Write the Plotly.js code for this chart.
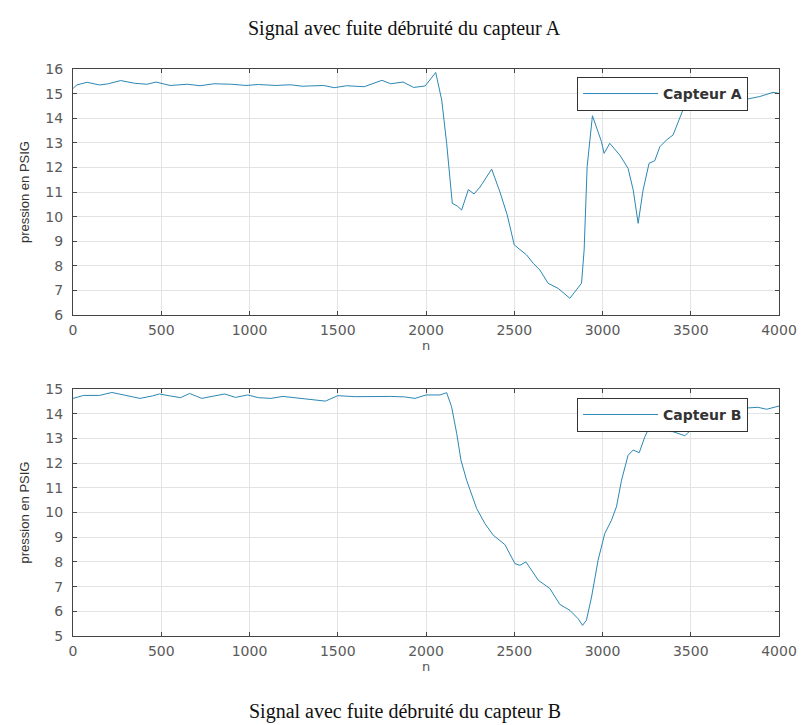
<!DOCTYPE html>
<html>
<head>
<meta charset="utf-8">
<script src="https://cdn.plot.ly/plotly-3.0.1.min.js"></script>
<style>html,body{margin:0;padding:0;background:#fff;}#chart{width:803px;height:725px;}</style>
</head>
<body>
<div id="chart"></div>
<script>
const xA = [0,20,80,150,200,270,350,420,470,550,650,720,800,900,980,1050,1150,1230,1300,1420,1480,1550,1650,1750,1800,1870,1930,1995,2055,2089,2117,2149,2177,2202,2240,2272,2306,2372,2419,2460,2500,2532,2570,2608,2645,2692,2749,2815,2853,2881,2896,2913,2943,2966,2994,3009,3041,3098,3145,3174,3202,3230,3264,3296,3325,3362,3400,3457,3513,3560,3589,3626,3664,3711,3777,3815,3891,3966,4000];
const yA = [15.2,15.35,15.46,15.35,15.4,15.53,15.42,15.38,15.47,15.33,15.38,15.32,15.4,15.38,15.33,15.37,15.33,15.36,15.3,15.33,15.24,15.32,15.28,15.54,15.4,15.47,15.25,15.31,15.86,14.74,12.98,10.54,10.43,10.27,11.1,10.92,11.2,11.93,11.0,10.07,8.85,8.67,8.44,8.1,7.83,7.29,7.08,6.68,7.02,7.29,8.64,12.03,14.1,13.66,13.05,12.57,12.98,12.5,11.96,11.08,9.73,11.08,12.17,12.27,12.84,13.11,13.32,14.36,14.74,14.74,14.64,14.78,14.71,14.33,14.83,14.77,14.88,15.05,15.01];

const xB = [0,60,150,220,300,380,450,490,550,610,660,730,800,860,920,990,1050,1120,1190,1300,1430,1500,1600,1800,1880,1938,2000,2079,2117,2145,2174,2198,2230,2287,2334,2381,2447,2504,2532,2566,2598,2636,2702,2758,2815,2862,2887,2909,2938,2975,3013,3051,3079,3108,3145,3174,3208,3240,3283,3315,3353,3400,3466,3513,3589,3664,3750,3880,3930,4000];
const yB = [14.62,14.74,14.74,14.86,14.74,14.62,14.72,14.8,14.72,14.65,14.82,14.62,14.72,14.8,14.66,14.76,14.65,14.62,14.7,14.62,14.51,14.73,14.69,14.7,14.68,14.62,14.76,14.76,14.85,14.28,13.2,12.12,11.31,10.16,9.55,9.08,8.7,7.93,7.86,8.0,7.66,7.26,6.92,6.28,6.04,5.7,5.43,5.64,6.58,8.07,9.15,9.69,10.23,11.31,12.32,12.53,12.42,13.07,13.7,13.54,13.3,13.27,13.11,13.41,13.74,14.11,14.2,14.26,14.18,14.31];

const xTicks = [0,500,1000,1500,2000,2500,3000,3500,4000];
const yTicksA = [6,7,8,9,10,11,12,13,14,15,16];
const yTicksB = [5,6,7,8,9,10,11,12,13,14,15];

const titleA = "Signal avec fuite débruité du capteur A";
const titleB = "Signal avec fuite débruité du capteur B";
const nameA = "Capteur A";
const nameB = "Capteur B";
const xLabel = "n";
const yLabel = "pression en PSIG";

const lineColor = "#2b87b5";
const tickFont = {family: "DejaVu Sans, sans-serif", size: 14, color: "#5a5a5a"};

function xaxis(anchor){
  return {
    anchor: anchor, range:[0,4000], tickvals: xTicks, ticktext: xTicks.map(String),
    showgrid:true, gridcolor:"#e3e3e3", gridwidth:1, zeroline:false,
    showline:true, linecolor:"#444", linewidth:1, mirror:"ticks",
    ticks:"inside", ticklen:4, tickcolor:"#444",
    tickfont: tickFont, ticklabelstandoff: 2,
    title:{text:xLabel, font:{family:"DejaVu Sans, sans-serif", size:13, color:"#555"}, standoff:0}
  };
}
function yaxis(anchor, rng, ticks, domain){
  return {
    anchor: anchor, domain: domain, range: rng, tickvals: ticks, ticktext: ticks.map(String),
    showgrid:true, gridcolor:"#e3e3e3", gridwidth:1, zeroline:false,
    showline:true, linecolor:"#444", linewidth:1, mirror:"ticks",
    ticks:"inside", ticklen:4, tickcolor:"#444",
    tickfont: tickFont, ticklabelstandoff: 6,
    title:{text:yLabel, font:{family:"Liberation Sans, Arial, sans-serif", size:13, color:"#333"}, standoff:12}
  };
}

const traces = [
  {x:xA, y:yA, type:"scatter", mode:"lines", name:nameA, line:{color:lineColor, width:1}, xaxis:"x", yaxis:"y", legend:"legend"},
  {x:xB, y:yB, type:"scatter", mode:"lines", name:nameB, line:{color:lineColor, width:1}, xaxis:"x2", yaxis:"y2", legend:"legend2"}
];

const legendStyle = {
  bgcolor:"#fff", bordercolor:"#333", borderwidth:1,
  font:{family:"DejaVu Sans, sans-serif", size:14, color:"#333", weight:"bold"},
  itemwidth:75, xanchor:"left", yanchor:"top"
};

const layout = {
  width:803, height:725,
  paper_bgcolor:"#fff", plot_bgcolor:"#fff",
  margin:{l:73, r:24, t:69, b:89},
  showlegend:true,
  xaxis: xaxis("y"),
  yaxis: yaxis("x", [6,16], yTicksA, [0.5661,1]),
  xaxis2: xaxis("y2"),
  yaxis2: yaxis("x2", [5,15], yTicksB, [0,0.4356]),
  legend: Object.assign({x:0.714, y:0.986}, legendStyle),
  legend2: Object.assign({x:0.714, y:0.42}, legendStyle),
  annotations:[
    {text:titleA, xref:"paper", yref:"paper", x:0.470, xanchor:"center", y:1, yshift:41, yanchor:"middle", showarrow:false,
     font:{family:"Liberation Serif, Times New Roman, serif", size:20, color:"#111"}},
    {text:titleB, xref:"paper", yref:"paper", x:0.470, xanchor:"center", y:0, yshift:-75, yanchor:"middle", showarrow:false,
     font:{family:"Liberation Serif, Times New Roman, serif", size:20, color:"#111"}}
  ]
};

Plotly.newPlot("chart", traces, layout, {displayModeBar:false, staticPlot:true});
</script>
</body>
</html>
